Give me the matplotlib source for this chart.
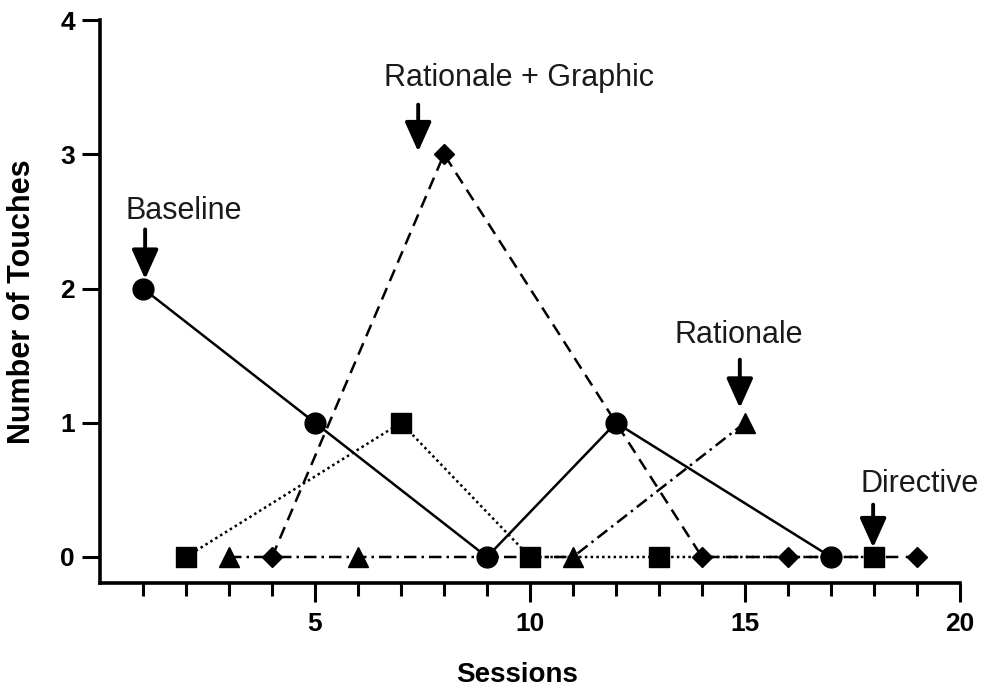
import matplotlib
matplotlib.use("Agg")
import matplotlib.pyplot as plt

plt.rcParams['font.family'] = ['Liberation Sans', 'DejaVu Sans']

# Data
baseline_x = [1, 5, 9, 12, 17]
baseline_y = [2, 1, 0, 1, 0]
rg_x = [4, 8, 14, 16, 19]
rg_y = [0, 3, 0, 0, 0]
rat_x = [3, 6, 11, 15]
rat_y = [0, 0, 0, 1]
dir_x = [2, 7, 10, 13, 18]
dir_y = [0, 1, 0, 0, 0]

x_ticks = [5, 10, 15, 20]
x_tick_labels = ['5', '10', '15', '20']
y_ticks = [0, 1, 2, 3, 4]
y_tick_labels = ['0', '1', '2', '3', '4']

annot_labels = ["Baseline", "Rationale + Graphic", "Rationale", "Directive"]

fig = plt.figure(figsize=(9.84, 6.93), dpi=100)
ax = fig.add_axes([0.1016, 0.1587, 0.874, 0.8124])

lw = 1.8
ax.plot(baseline_x, baseline_y, color='black', lw=lw, ls='-', marker='o', ms=15, zorder=3)
ax.plot(rg_x, rg_y, color='black', lw=lw, ls=(0, (5, 3)), marker='D', ms=10, zorder=3)
ax.plot(rat_x, rat_y, color='black', lw=lw, ls=(0, (5, 2, 1, 2)), marker='^', ms=15, zorder=3)
ax.plot(dir_x, dir_y, color='black', lw=lw, ls=(0, (1, 1.3)), marker='s', ms=15, zorder=3)

ax.set_xlim(0, 20)
ax.set_ylim(-0.194, 4)
ax.set_xticks(x_ticks, labels=x_tick_labels, fontsize=19, fontweight='bold')
ax.set_xticks(range(1, 20), minor=True)
ax.set_yticks(y_ticks, labels=y_tick_labels, fontsize=19, fontweight='bold')

for s in ['top', 'right']:
    ax.spines[s].set_visible(False)
for s in ['left', 'bottom']:
    ax.spines[s].set_linewidth(2.6)

ax.tick_params(axis='x', which='major', length=14, width=2.2, pad=7)
ax.tick_params(axis='x', which='minor', length=9, width=2.2)
ax.tick_params(axis='y', which='major', length=13, width=2.2, pad=5)

ax.set_xlabel('Sessions', fontsize=20, fontweight='bold')
ax.xaxis.set_label_coords(0.485, -0.14)
ax.set_ylabel('Number of Touches', fontsize=22, fontweight='bold')
ax.yaxis.set_label_coords(-0.073, 0.5)

# Annotations: text positions and arrows
text_pos = [(1.95, 2.58), (9.74, 3.57), (14.86, 1.65), (19.07, 0.54)]
arrow_x = [1.05, 7.4, 14.88, 17.98]
arrow_tail = [2.44, 3.37, 1.47, 0.39]
arrow_head = [2.07, 3.02, 1.11, 0.07]
for lab, (tx, ty), axx, at, ah in zip(annot_labels, text_pos, arrow_x, arrow_tail, arrow_head):
    ax.text(tx, ty, lab, fontsize=22, ha='center', va='center', color='#1a1a1a')
    ax.annotate('', xy=(axx, ah), xytext=(axx, at),
                arrowprops=dict(arrowstyle='-|>,head_length=1.0,head_width=0.45',
                                lw=2.8, color='black', mutation_scale=18,
                                shrinkA=0, shrinkB=0), zorder=4)

fig.savefig('out.png', dpi=100)
